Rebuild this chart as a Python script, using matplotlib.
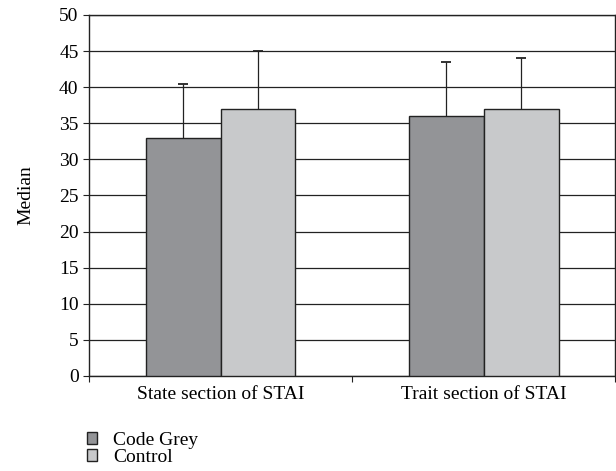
import matplotlib
matplotlib.use("Agg")
import matplotlib.pyplot as plt
import numpy as np

categories = ["State section of STAI", "Trait section of STAI"]
series = ["Code Grey", "Control"]
code_grey = [33, 36]
control = [37, 37]
code_grey_err = [7.5, 7.5]
control_err = [8, 7]
colors = ["#939497", "#c8c9cb"]

plt.rcParams["font.family"] = ["Liberation Serif", "DejaVu Serif"]
fs = 14

fig = plt.figure(figsize=(6.16, 4.71), dpi=100)
ax = fig.add_axes([0.1445, 0.2017, 0.854, 0.7665])

x = np.arange(len(categories))
w = 0.285
cap = 0.02
for i, (vals, errs) in enumerate([(code_grey, code_grey_err), (control, control_err)]):
    pos = x - w / 2 + i * w
    ax.bar(pos, vals, width=w, color=colors[i], edgecolor="#222222", linewidth=1.0,
           label=series[i], zorder=3)
    tops = np.array(vals) + np.array(errs)
    # upper error bars only
    ax.vlines(pos, vals, tops, color="#222222", linewidth=0.9, zorder=2)
    ax.hlines(tops, pos - cap, pos + cap, color="#222222", linewidth=1.3, zorder=2)

ax.set_xlim(-0.5, 1.5)
ax.set_ylim(0, 50)
ax.set_yticks(range(0, 51, 5))
ax.yaxis.grid(True, color="#222222", linewidth=0.9, zorder=0)
ax.set_axisbelow(True)
ax.set_xticks([-0.5, 0.5, 1.5])
ax.set_xticklabels([])
ax.set_xticks(x, minor=True)
ax.set_xticklabels(categories, minor=True, fontsize=fs)
ax.tick_params(axis="x", which="minor", length=0, pad=7)
ax.tick_params(axis="x", which="major", length=4, direction="out", color="#222222")
ax.tick_params(axis="y", length=4, direction="out", labelsize=fs, color="#222222")
for s in ax.spines.values():
    s.set_color("#222222")
    s.set_linewidth(1.0)
ax.set_ylabel("Median", fontsize=fs, labelpad=18)

leg = fig.legend(loc="upper left", bbox_to_anchor=(0.128, 0.1), frameon=False,
                 fontsize=fs, handlelength=0.55, handleheight=0.55, handletextpad=0.8,
                 labelspacing=0.0, borderaxespad=0)

fig.savefig("out.png", dpi=100)
